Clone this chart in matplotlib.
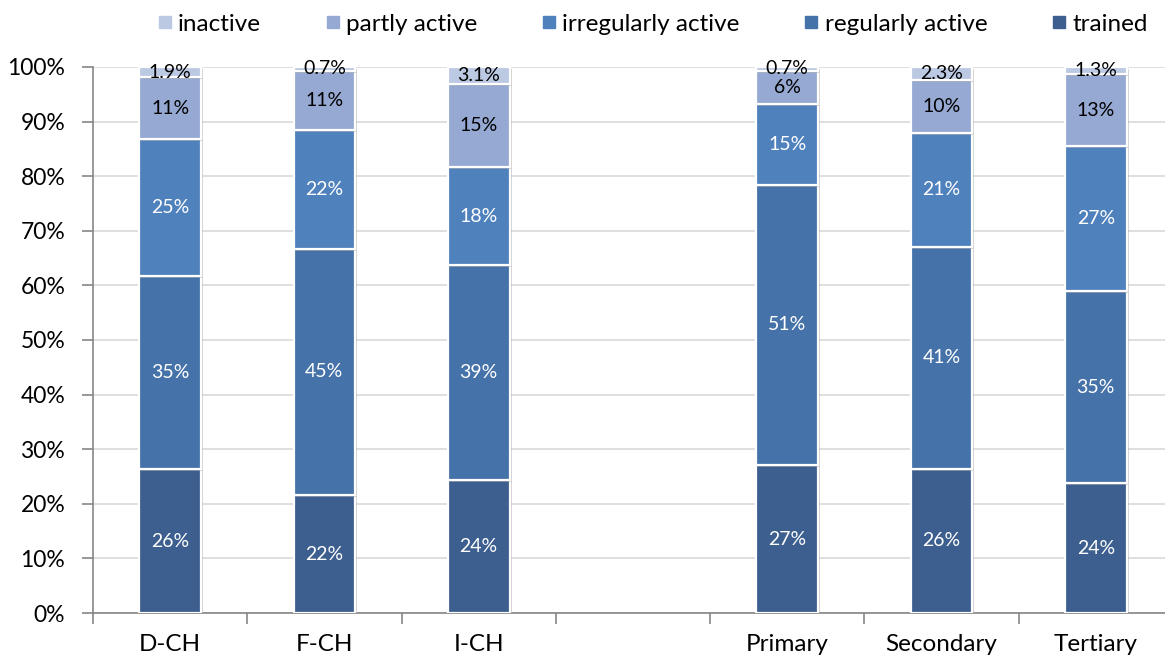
import matplotlib
matplotlib.use("Agg")
import matplotlib.pyplot as plt
import matplotlib.patheffects as pe
from matplotlib.lines import Line2D
from matplotlib.ticker import FuncFormatter, FixedLocator

plt.rcParams['font.family'] = ['Lato', 'DejaVu Sans']

# Groups (an empty slot separates regions from education levels)
categories = ["D-CH", "F-CH", "I-CH", "", "Primary", "Secondary", "Tertiary"]
positions = [0, 1, 2, 4, 5, 6]
groups = ["D-CH", "F-CH", "I-CH", "Primary", "Secondary", "Tertiary"]

# Shares in percent, bottom to top
trained = [26.3, 21.6, 24.4, 27.1, 26.4, 23.8]
regularly_active = [35.4, 45.1, 39.3, 51.3, 40.7, 35.1]
irregularly_active = [25.1, 21.8, 18.0, 14.8, 20.9, 26.6]
partly_active = [11.3, 10.8, 15.2, 6.1, 9.7, 13.2]
inactive = [1.9, 0.7, 3.1, 0.7, 2.3, 1.3]

series = [
    ("trained", trained, "#3C5F8F", "white", "{:.0f}%"),
    ("regularly active", regularly_active, "#4572A8", "white", "{:.0f}%"),
    ("irregularly active", irregularly_active, "#4F81BD", "white", "{:.0f}%"),
    ("partly active", partly_active, "#95A9D2", "black", "{:.0f}%"),
    ("inactive", inactive, "#BCC9E3", "black", "{:.1f}%"),
]

fig = plt.figure(figsize=(11.65, 6.6), dpi=100)
ax = fig.add_axes([0.0798, 0.0712, 0.927, 0.8273])

shadow = [pe.SimplePatchShadow(offset=(1.5, -1.5), shadow_rgbFace="#9a9a9a", alpha=0.45), pe.Normal()]

bottoms = [0.0] * len(positions)
for name, vals, color, tcolor, fmt in series:
    ax.bar(positions, vals, width=0.4, bottom=bottoms, color=color,
           edgecolor="white", linewidth=1.6, zorder=3, path_effects=shadow)
    for x, b, v in zip(positions, bottoms, vals):
        ax.text(x, b + v / 2, fmt.format(v), ha="center", va="center",
                color=tcolor, fontsize=14, zorder=5)
    bottoms = [b + v for b, v in zip(bottoms, vals)]

ax.set_xlim(-0.5, 6.5)
ax.set_ylim(0, 100)
ax.yaxis.set_major_locator(FixedLocator(range(0, 101, 10)))
ax.yaxis.set_major_formatter(FuncFormatter(lambda v, p: f"{v:.0f}%"))
ax.grid(axis="y", color="#D9D9D9", linewidth=1.2, zorder=0)
ax.set_axisbelow(True)

ax.set_xticks(range(len(categories)))
ax.set_xticklabels(categories)
ax.set_xticks([i - 0.5 for i in range(len(categories) + 1)], minor=True)
ax.tick_params(axis="x", which="major", length=0, pad=15, labelsize=17.5)
ax.tick_params(axis="x", which="minor", length=8, color="#868686", width=1.2)
ax.tick_params(axis="y", length=8, color="#868686", width=1.2, labelsize=16.5, pad=12)

for s in ["top", "right"]:
    ax.spines[s].set_visible(False)
for s in ["left", "bottom"]:
    ax.spines[s].set_color("#868686")
    ax.spines[s].set_linewidth(1.2)

handles = [Line2D([], [], marker="s", linestyle="", markersize=9,
                  markerfacecolor=c, markeredgecolor=c, label=n)
           for n, _, c, _, _ in reversed(series)]
fig.legend(handles=handles, loc="upper center", bbox_to_anchor=(0.558, 1.012),
           ncol=5, frameon=False, fontsize=17.5, handletextpad=0.05,
           columnspacing=2.45, handlelength=1.0)

fig.savefig("out.png", dpi=100)
